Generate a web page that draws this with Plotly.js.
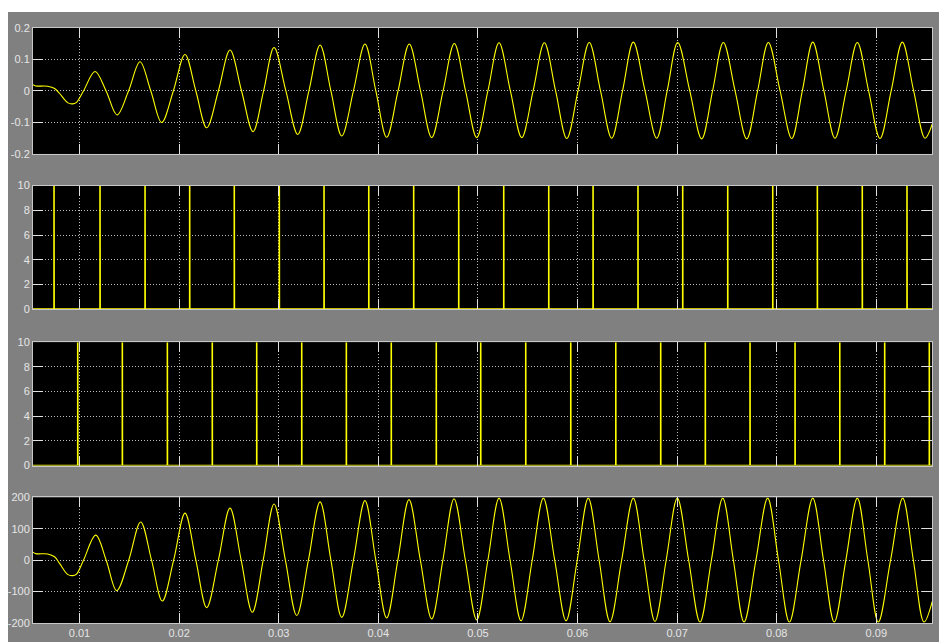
<!DOCTYPE html>
<html>
<head>
<meta charset="utf-8">
<script src="https://cdn.plot.ly/plotly-3.0.1.min.js"></script>
<style>
  html, body { margin: 0; padding: 0; background: #ffffff; width: 939px; height: 642px; overflow: hidden; }
  #chart { position: absolute; left: 8px; top: 12px; width: 931px; height: 630px; }
</style>
</head>
<body>
<div id="chart"></div>
<script>
// ---- Data ----
var timeRange = [0.00533, 0.09559];
var xTickValues = [0.01, 0.02, 0.03, 0.04, 0.05, 0.06, 0.07, 0.08, 0.09];
var xTickLabels = ["0.01", "0.02", "0.03", "0.04", "0.05", "0.06", "0.07", "0.08", "0.09"];

// Panel 1 : small signal
var p1Time = [0.00533,0.0056,0.0068,0.0075,0.0080,0.0088,0.0093,0.0097,0.0104,
  0.01156,0.01267,0.01377,0.01492,0.01607,0.01716,0.01825,0.01942,0.02059,0.02168,
  0.02277,0.02394,0.02511,0.02627,0.02742,0.02848,0.02953,0.03072,0.03191,0.03303,
  0.03415,0.03524,0.03633,0.0375,0.03866,0.03975,0.04084,0.04198,0.04311,0.04424,
  0.04536,0.0465,0.04763,0.04876,0.04988,0.051,0.05212,0.05326,0.0544,0.05554,
  0.05667,0.0578,0.05892,0.06005,0.06118,0.06231,0.06343,0.06452,0.0656,0.06678,
  0.06795,0.069,0.07006,0.07127,0.07247,0.07356,0.07464,0.07582,0.07699,0.07808,
  0.07916,0.08034,0.08151,0.08257,0.08362,0.08474,0.08585,0.08697,0.08809,0.08923,
  0.09037,0.09149,0.09261,0.09375,0.09489,0.09562];
var p1Value = [0.020,0.016,0.015,0.008,-0.008,-0.037,-0.041,-0.036,0,
  0.062,0,-0.076,0,0.093,0,-0.100,0,0.116,0,
  -0.117,0,0.130,0,-0.129,0,0.138,0,-0.138,0,
  0.146,0,-0.143,0,0.149,0,-0.147,0,0.149,0,
  -0.148,0,0.151,0,-0.148,0,0.153,0,-0.148,0,
  0.153,0,-0.151,0,0.154,0,-0.150,0,0.155,0,
  -0.150,0,0.154,0,-0.152,0,0.154,0,-0.152,0,
  0.154,0,-0.151,0,0.155,0,-0.150,0,0.154,0,
  -0.151,0,0.155,0,-0.150,-0.105];

// Panel 2 and 3 : pulse trains (0 / 10)
var pulseHigh = 10;
var pulseTimesA = [0.00744,0.01206,0.01658,0.02106,0.02554,0.03006,0.03455,0.03904,
  0.04355,0.04807,0.05259,0.05711,0.06156,0.06607,0.07056,0.07508,0.0796,0.08408,
  0.08859,0.09308];
var pulseTimesB = [0.00982,0.0143,0.01882,0.02333,0.02779,0.03231,0.03679,0.0413,
  0.04582,0.05028,0.0548,0.05932,0.06384,0.06835,0.07283,0.07732,0.08184,0.08633,
  0.09084,0.09532];

// Panel 4 : large signal
var p4Time = [0.00533,0.0056,0.0068,0.0075,0.0080,0.0088,0.0093,0.0097,0.0104,
  0.01163,0.01268,0.01373,0.01494,0.01614,0.01723,0.01831,0.01945,0.02059,0.02168,
  0.02277,0.02394,0.02511,0.02623,0.02735,0.02844,0.02953,0.03067,0.03181,0.03298,
  0.03415,0.03524,0.03633,0.0375,0.03866,0.03975,0.04084,0.04196,0.04308,0.04422,
  0.04536,0.04648,0.0476,0.04874,0.04988,0.051,0.05212,0.05323,0.05433,0.05545,
  0.05657,0.05771,0.05885,0.05997,0.06108,0.06217,0.06326,0.06443,0.0656,0.06669,
  0.06778,0.0689,0.07002,0.07116,0.0723,0.07344,0.07458,0.07565,0.07672,0.07791,
  0.07909,0.08018,0.08127,0.08245,0.08362,0.0847,0.08578,0.08694,0.08809,0.08915,
  0.0902,0.09143,0.09265,0.09372,0.09479,0.09562];
var p4Value = [26,21,20,11,-10,-45,-49,-44,0,
  80,0,-97,0,122,0,-130,0,150,0,
  -151,0,166,0,-166,0,179,0,-176,0,
  186,0,-182,0,190,0,-184,0,193,0,
  -187,0,196,0,-190,0,198,0,-193,0,
  198,0,-193,0,198,0,-196,0,198,0,
  -195,0,198,0,-197,0,198,0,-197,0,
  198,0,-197,0,198,0,-197,0,198,0,
  -197,0,198,0,-197,-131];

var y1Ticks = [-0.2, -0.1, 0, 0.1, 0.2];
var y1Labels = ["-0.2", "-0.1", "0", "0.1", "0.2"];
var y23Ticks = [0, 2, 4, 6, 8, 10];
var y23Labels = ["0", "2", "4", "6", "8", "10"];
var y4Ticks = [-200, -100, 0, 100, 200];
var y4Labels = ["-200", "-100", "0", "100", "200"];

// ---- Build pulse polylines from the pulse times ----
function pulseTrace(times, xa, ya) {
  var w = 0.00001;
  var xs = [timeRange[0]], ys = [0];
  times.forEach(function (t) {
    xs.push(t, t, t + w, t + w);
    ys.push(0, pulseHigh, pulseHigh, 0);
  });
  xs.push(timeRange[1] + 0.001); ys.push(0);
  return { x: xs, y: ys, xaxis: xa, yaxis: ya, type: 'scatter', mode: 'lines',
           line: { color: '#ffff00', width: 1.6 }, hoverinfo: 'skip' };
}

var yellow = '#ffff00';
var traces = [
  { x: p1Time, y: p1Value, xaxis: 'x', yaxis: 'y', type: 'scatter', mode: 'lines',
    line: { color: yellow, width: 1.1, shape: 'spline', smoothing: 1 } },
  pulseTrace(pulseTimesA, 'x2', 'y2'),
  pulseTrace(pulseTimesB, 'x3', 'y3'),
  { x: p4Time, y: p4Value, xaxis: 'x4', yaxis: 'y4', type: 'scatter', mode: 'lines',
    line: { color: yellow, width: 1.1, shape: 'spline', smoothing: 1 } }
];

var tickFont = { family: 'Liberation Sans Narrow, Arial Narrow, Liberation Sans, Arial, sans-serif', size: 11, color: '#e6e6e6' };

function xAxis(anchor, labels) {
  return {
    anchor: anchor, domain: [0, 1], range: timeRange.slice(),
    tickmode: 'array', tickvals: xTickValues, ticktext: xTickLabels,
    showticklabels: labels, tickfont: tickFont,
    ticks: 'inside', ticklen: 10, tickwidth: 1, tickcolor: '#e0e0e0',
    showline: true, linecolor: '#c8c8c8', linewidth: 1, mirror: 'ticks',
    showgrid: true, gridcolor: '#bdbdbd', gridwidth: 1, griddash: '1px,2px',
    zeroline: false, fixedrange: true
  };
}
function yAxis(anchor, dom, rng, tv, tt) {
  return {
    anchor: anchor, domain: dom, range: rng,
    tickmode: 'array', tickvals: tv, ticktext: tt, tickfont: tickFont,
    ticks: 'inside', ticklen: 10, tickwidth: 1, tickcolor: '#e0e0e0',
    showline: true, linecolor: '#c8c8c8', linewidth: 1, mirror: 'ticks',
    showgrid: true, gridcolor: '#bdbdbd', gridwidth: 1, griddash: '1px,2px',
    zeroline: false, fixedrange: true
  };
}

var layout = {
  width: 931, height: 630,
  margin: { l: 25, r: 7, t: 16, b: 19, pad: 0 },
  paper_bgcolor: '#808080', plot_bgcolor: '#000000',
  showlegend: false,
  xaxis: xAxis('y', false),
  xaxis2: xAxis('y2', false),
  xaxis3: xAxis('y3', false),
  xaxis4: xAxis('y4', true),
  yaxis: yAxis('x', [0.7883, 1], [-0.2, 0.2], y1Ticks, y1Labels),
  yaxis2: yAxis('x2', [0.5275, 0.7351], [0, 10], y23Ticks, y23Labels),
  yaxis3: yAxis('x3', [0.2647, 0.472], [0, 10], y23Ticks, y23Labels),
  yaxis4: yAxis('x4', [0, 0.211], [-200, 200], y4Ticks, y4Labels)
};

Plotly.newPlot('chart', traces, layout, { displayModeBar: false, staticPlot: true });
</script>
</body>
</html>
